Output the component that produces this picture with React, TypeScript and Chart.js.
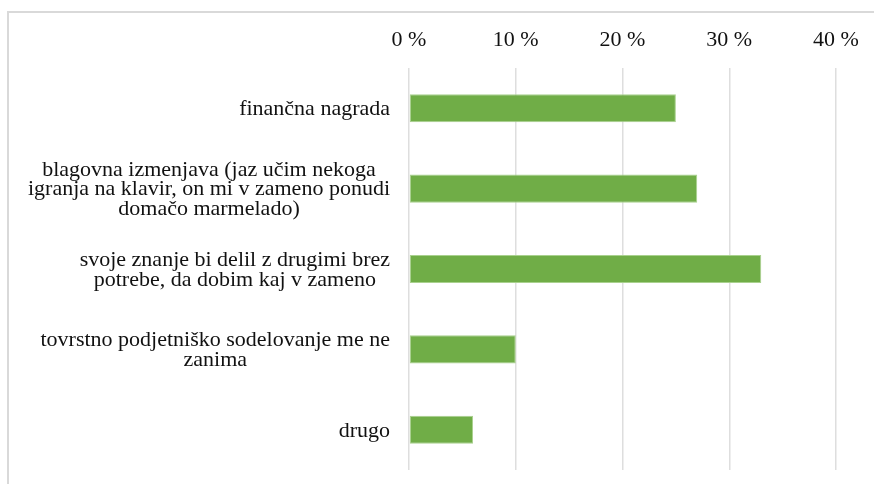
import React, { useEffect, useRef } from "react";
import { Chart, registerables } from "chart.js";

Chart.register(...registerables);

const categories: string[][] = [
  ["finančna nagrada"],
  ["blagovna izmenjava (jaz učim nekoga", "igranja na klavir, on mi v zameno ponudi", "domačo marmelado)"],
  ["svoje znanje bi delil z drugimi brez", "potrebe, da dobim kaj v zameno"],
  ["tovrstno podjetniško sodelovanje me ne", "zanima"],
  ["drugo"],
];
const values: number[] = [25, 27, 33, 10, 6];
const tickMax = 40;
const tickStep = 10;

const FONT = "Liberation Serif";
const FONT_SIZE = 22;
const STRETCH = 1.0;
const LINE_H = 19.5;
const TEXT_COLOR = "#111";

const frame = {
  id: "frame",
  beforeDraw(chart: any) {
    const ctx = chart.ctx;
    ctx.save();
    ctx.strokeStyle = "#d9d9d9";
    ctx.lineWidth = 2;
    ctx.strokeRect(8, 12, 1000, 1000);
    ctx.restore();
  },
};

const yLabels = {
  id: "yLabels",
  afterDraw(chart: any) {
    const ctx = chart.ctx;
    const y = chart.scales.y;
    const rightEdge = chart.chartArea.left - 19;
    ctx.save();
    ctx.fillStyle = TEXT_COLOR;
    ctx.font = `${FONT_SIZE}px "${FONT}"`;
    ctx.textBaseline = "middle";
    ctx.textAlign = "center";
    categories.forEach((lines, i) => {
      const cy = y.getPixelForValue(i);
      const widths = lines.map((l) => ctx.measureText(l).width * STRETCH);
      const w = Math.max(...widths);
      const cx = rightEdge - w / 2;
      const y0 = cy - ((lines.length - 1) * LINE_H) / 2;
      lines.forEach((l, j) => {
        ctx.save();
        ctx.translate(cx, y0 + j * LINE_H + 1);
        ctx.scale(STRETCH, 1);
        ctx.fillText(l, 0, 0);
        ctx.restore();
      });
    });
    ctx.restore();
  },
};

const xLabels = {
  id: "xLabels",
  afterDraw(chart: any) {
    const ctx = chart.ctx;
    const x = chart.scales.x;
    ctx.save();
    ctx.fillStyle = TEXT_COLOR;
    ctx.font = `${FONT_SIZE}px "${FONT}"`;
    ctx.textBaseline = "alphabetic";
    ctx.textAlign = "center";
    x.ticks.forEach((t: any) => {
      const px = x.getPixelForValue(t.value);
      ctx.save();
      ctx.translate(px, 46);
      ctx.scale(STRETCH, 1);
      ctx.fillText(`${t.value} %`, 0, 0);
      ctx.restore();
    });
    ctx.restore();
  },
};

export default function App() {
  const ref = useRef<HTMLCanvasElement | null>(null);
  useEffect(() => {
    if (!ref.current) return;
    const chart = new Chart(ref.current, {
      type: "bar",
      data: {
        labels: categories.map((c) => c.join(" ")),
        datasets: [
          {
            data: values,
            backgroundColor: "#70ad47",
            borderColor: "#a9d18e",
            borderWidth: 1,
            borderSkipped: false,
            barPercentage: 0.7,
            categoryPercentage: 0.5,
          },
        ],
      },
      options: {
        indexAxis: "y",
        responsive: false,
        animation: false,
        layout: { padding: { top: 0, right: 38, bottom: 14, left: 0 } },
        plugins: { legend: { display: false }, tooltip: { enabled: false } },
        scales: {
          x: {
            position: "top",
            min: 0,
            max: tickMax,
            ticks: { stepSize: tickStep, display: false },
            grid: { color: "#dedede", lineWidth: 1.5, drawTicks: false },
            border: { display: false },
            afterFit: (s: any) => {
              s.height = 68;
            },
          },
          y: {
            ticks: { display: false },
            grid: { display: false },
            border: { display: false },
            afterFit: (s: any) => {
              s.width = 409;
            },
          },
        },
      },
      plugins: [frame, yLabels, xLabels],
    });
    return () => chart.destroy();
  }, []);
  return (
    <div style={{ position: "fixed", left: 0, top: 0, width: 874, height: 484, background: "#fff" }}>
      <canvas ref={ref} width={874} height={484} />
    </div>
  );
}
